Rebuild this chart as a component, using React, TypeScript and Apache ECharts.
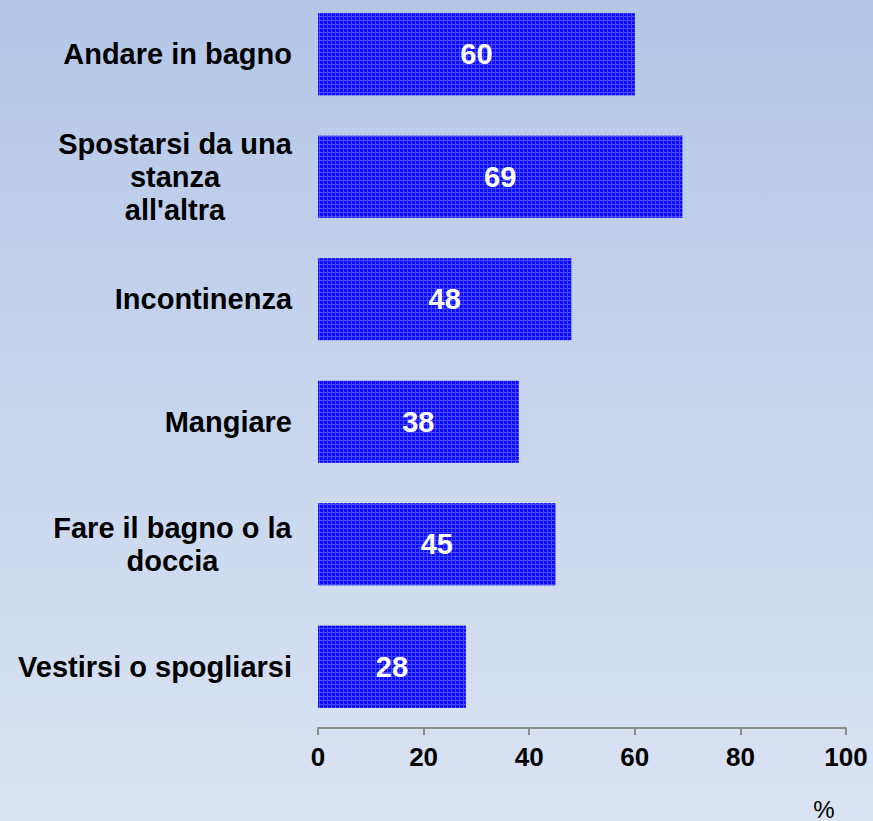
import React, { useEffect, useRef } from "react";
import * as echarts from "echarts";

const categories = [
  "Andare in bagno",
  "Spostarsi da una\nstanza\nall'altra",
  "Incontinenza",
  "Mangiare",
  "Fare il bagno o la\ndoccia",
  "Vestirsi o spogliarsi",
];
const values = [60, 69, 48, 38, 45, 28];
const axisMin = 0;
const axisMax = 100;
const axisStep = 20;
const unitLabel = "%";

const FONT = '"Liberation Sans", Arial, sans-serif';
const CAT_SIZE = 29;

function measure(text: string, size: number): number {
  const c = document.createElement("canvas");
  const ctx = c.getContext("2d");
  if (!ctx) return text.length * size * 0.55;
  ctx.font = `bold ${size}px ${FONT}`;
  return ctx.measureText(text).width;
}

export default function App() {
  const ref = useRef<HTMLDivElement>(null);
  useEffect(() => {
    if (!ref.current) return;
    const chart = echarts.init(ref.current, undefined, { renderer: "svg" });

    const rich: Record<string, any> = {};
    const tokenName = (i: number) => "c" + i;
    categories.forEach((c, i) => {
      const lines = c.split("\n");
      const w = Math.ceil(Math.max(...lines.map((l) => measure(l, CAT_SIZE))));
      rich[tokenName(i)] = {
        width: lines.length > 1 ? w : undefined,
        align: "center",
        fontSize: CAT_SIZE,
        fontWeight: "bold",
        fontFamily: FONT,
        color: "#000",
        lineHeight: 33,
      };
    });

    const yData = [...categories].reverse();
    const yVals = [...values].reverse();

    chart.setOption({
      animation: false,
      backgroundColor: {
        type: "linear",
        x: 0,
        y: 0,
        x2: 0,
        y2: 1,
        colorStops: [
          { offset: 0, color: "#b4c6e7" },
          { offset: 1, color: "#dae3f3" },
        ],
      },
      grid: { left: 318, right: 27, top: 0, bottom: 93, containLabel: false },
      xAxis: {
        type: "value",
        min: axisMin,
        max: axisMax,
        interval: axisStep,
        axisLine: { show: true, lineStyle: { color: "#8c8c8c", width: 2 } },
        axisTick: { show: true, length: 7, lineStyle: { color: "#8c8c8c", width: 2 } },
        splitLine: { show: false },
        axisLabel: {
          margin: 16,
          fontSize: 26,
          fontWeight: "bold",
          fontFamily: FONT,
          color: "#000",
        },
      },
      yAxis: {
        type: "category",
        data: yData,
        axisLine: { show: false },
        axisTick: { show: false },
        axisLabel: {
          margin: 26,
          align: "right",
          formatter: (v: string) => {
            const i = categories.indexOf(v);
            return v
              .split("\n")
              .map((l) => `{${tokenName(i)}|${l}}`)
              .join("\n");
          },
          rich,
        },
      },
      series: [
        {
          type: "bar",
          data: yVals,
          barWidth: 82,
          itemStyle: {
            color: "#4a4aff",
            decal: {
              symbol: "rect",
              symbolSize: 1,
              dashArrayX: [3, 1],
              dashArrayY: [3, 1],
              color: "#0c0cff",
              rotation: 0,
            },
          },
          label: {
            show: true,
            position: "inside",
            color: "#fff",
            fontSize: 29,
            fontWeight: "bold",
            fontFamily: FONT,
          },
        },
      ],
      graphic: [
        {
          type: "text",
          x: 824,
          y: 816,
          style: {
            text: unitLabel,
            fontSize: 24,
            fontFamily: FONT,
            fill: "#000",
            textAlign: "center",
            textVerticalAlign: "middle",
          },
        },
      ],
    });
    return () => chart.dispose();
  }, []);
  return (
    <div
      ref={ref}
      style={{ position: "fixed", left: 0, top: -7, width: 873, height: 828 }}
    />
  );
}
